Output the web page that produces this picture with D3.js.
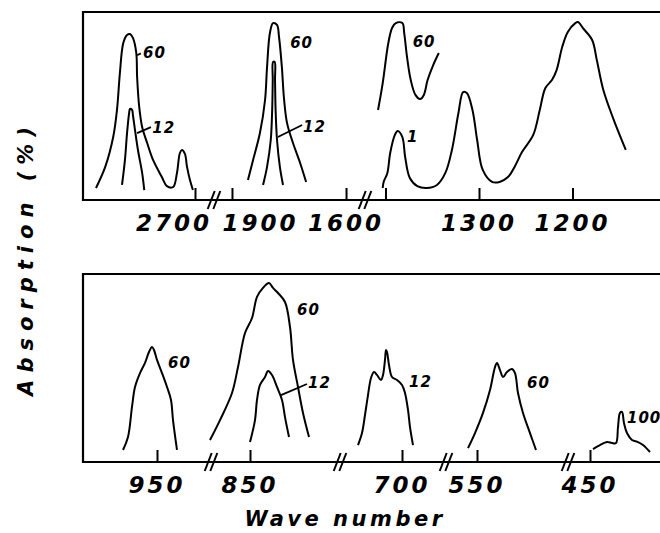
<!DOCTYPE html>
<html lang="en">
<head>
<meta charset="utf-8" />
<title>Absorption spectra</title>
<script src="https://d3js.org/d3.v7.min.js"></script>
<style>
  body { margin: 0; background: #fff; }
  text { font-family: "DejaVu Sans", sans-serif; font-style: italic; font-weight: bold; fill: #000; }
</style>
</head>
<body>
<svg id="chart" width="660" height="533" xmlns="http://www.w3.org/2000/svg"></svg>
<script>
// tick marks and tick labels (wave number)
const topTicks = [2650, 2000, 1600, 1400, 1300, 1200];
const topLabels = [2700, 1900, 1600, 1300, 1200];
const bottomTicks = [950, 850, 700, 550, 450];
const bottomLabels = [950, 850, 700, 550, 450];

// bands: [wave number, absorption %]
const band2800_60 = [[2886,6.4],[2864,17.6],[2845,33.5],[2836,47.9],[2829,67.6],[2821,83.5],[2812,87.8],[2805,88.3],[2798,86.2],[2790,78.2],[2788,65.4],[2783,49.5],[2776,38.8],[2764,30.3],[2750,21.3],[2729,12.2],[2717,7.4],[2702,6.9],[2693,14.4],[2686,25],[2681,26.6],[2674,24.5],[2669,17.6],[2662,10.6],[2655,5.3]];
const band2800_12 = [[2824,8],[2817,21.3],[2812,35.6],[2807,46.3],[2805,48.4],[2800,47.9],[2798,45.2],[2793,37.2],[2786,26.6],[2776,14.4],[2771,5.3]];
const band1850_60 = [[1944,10.6],[1926,21.3],[1902,35.6],[1884,53.2],[1877,70.7],[1867,88.8],[1856,94.1],[1842,93.1],[1835,86.7],[1825,70.7],[1818,54.8],[1807,41],[1786,30.3],[1761,19.7],[1740,9.6]];
const band1850_12 = [[1891,8],[1877,17.6],[1864,31.9],[1859,47.9],[1857,63.8],[1855.8,73.4],[1850.2,73.4],[1849,63.8],[1847,47.9],[1842,31.9],[1832,17.6],[1821,8]];
const band1380_60 = [[1408,47.9],[1403,62.2],[1397,83.5],[1393,91.5],[1389,94.1],[1382,94.1],[1380,88.8],[1377,76.1],[1373,63.8],[1368,55.9],[1363,53.7],[1359,55.9],[1355,63.8],[1349,71.8],[1343,78.2]];
const band1300_1 = [[1403,6.4],[1402,9.6],[1398,14.4],[1395,25],[1390,34.6],[1387,36.7],[1382,33.5],[1379,22.9],[1374,11.7],[1366,7.4],[1356,6.4],[1345,8],[1336,14.4],[1329,26.6],[1322,46.3],[1317,57.4],[1313,56.9],[1307,47.9],[1302,31.9],[1296,16],[1286,9.6],[1278,9.6],[1269,12.2],[1262,17.6],[1254,25.5],[1242,34.6],[1235,47.9],[1229,59.6],[1222,63.8],[1217,69.1],[1211,81.4],[1205,89.4],[1197,94.1],[1194,94.7],[1189,91.5],[1179,85.1],[1174,74.5],[1167,58.5],[1157,44.1],[1143,26.6]];

const band950_60 = [[984,6.4],[979,13.3],[975,29.3],[972,39.9],[967,47.3],[962,52.7],[958,58.5],[955,61.2],[953,59.6],[950,54.3],[945,47.3],[940,39.9],[936,33],[934,22.3],[930,6.4]];
const band830_60 = [[890,11.7],[880,22.3],[868,36.7],[862,50.5],[855,68.6],[848,76.6],[843,87.8],[837,92.6],[831,95.2],[827,92.6],[822,89.9],[815,85.1],[810,71.8],[807,54.3],[802,39.9],[797,26.1],[791,13.3]];
const band830_12 = [[850,10.6],[845,22.3],[843,33],[840,41],[835,45.2],[832,48.4],[828,46.3],[823,39.9],[818,33],[815,23.9],[811,13.3]];
const band720_12 = [[744,9],[740,15.4],[737,25],[734,35.6],[731,44.7],[728,47.9],[725,46.3],[721,43.6],[719,46.3],[717,54.3],[716,59.6],[715,58.5],[713,51.6],[710,45.2],[705,43.6],[700,41],[697,36.7],[694,27.7],[692,18.6],[689,9]];
const band530_60 = [[559,7.4],[552,15.4],[544,26.1],[537,38.3],[532,50.5],[530,52.7],[527,48.9],[524,45.2],[520,47.9],[515,49.5],[512,47.3],[509,36.7],[504,26.1],[497,15.4],[491,6.4]];
const band420_100 = [[447,6.9],[440,9],[433,10.6],[428,10.1],[424,10.1],[422,18.6],[420,26.1],[418,26.6],[416,20.7],[413,15.4],[408,11.7],[402,10.6],[397,9],[390,5.3]];

// curve notes: text, wave number, absorption
const topNotes = [["60",2774,78],["12",2752,38.3],["60",1796,83.5],["12",1751,38.8],["60",1371,84],["1",1377,33.5]];
const bottomNotes = [["60",939,52.7],["60",803,80.9],["12",792,42],["12",693,42.6],["60",500,42],["100",413,23.4]];
const topLeaders = [[[2788,77],[2779,78]],[[2788,35.6],[2755,38.8]],[[1839,33.5],[1754,39.9]]];
const bottomLeaders = [[[819,35.6],[793,41.5]]];

const panels = [
  { y0: 12, y1: 200,
    segs: [{d:[2917,2619], r:[83,208]}, {d:[2042,1551], r:[220,360]}, {d:[1416.6,1106.4], r:[370,660]}],
    ticks: topTicks, labels: topLabels,
    bands: [band2800_60, band2800_12, band1850_60, band1850_12, band1380_60, band1300_1],
    notes: topNotes, leaders: topLeaders },
  { y0: 274, y1: 462,
    segs: [{d:[1024,902], r:[83,205]}, {d:[883,765], r:[217,335]}, {d:[757,662], r:[345,440]}, {d:[575,465], r:[452,562]}, {d:[466,380], r:[574,660]}],
    ticks: bottomTicks, labels: bottomLabels,
    bands: [band950_60, band830_60, band830_12, band720_12, band530_60, band420_100],
    notes: bottomNotes, leaders: bottomLeaders }
];

const svg = d3.select("#chart");
svg.append("rect").attr("width", 660).attr("height", 533).attr("fill", "#fff");

panels.forEach(p => {
  p.segs.forEach(s => { s.scale = d3.scaleLinear().domain(s.d).range(s.r); });
  const y = d3.scaleLinear().domain([0, 100]).range([p.y1, p.y0]);

  // pick the segment holding a wave number (nearest one if in a gap)
  const segFor = w => {
    let best = p.segs[0], bd = Infinity;
    p.segs.forEach(s => {
      const hi = Math.max(...s.d), lo = Math.min(...s.d);
      const dist = w > hi ? w - hi : (w < lo ? lo - w : 0);
      if (dist < bd) { bd = dist; best = s; }
    });
    return best;
  };
  const xw = w => segFor(w).scale(w);

  const g = svg.append("g");

  // frame
  g.append("path")
    .attr("d", `M660,${p.y0} L83,${p.y0} L83,${p.y1} L660,${p.y1}`)
    .attr("fill", "none").attr("stroke", "#000").attr("stroke-width", 2.2);

  // ticks per segment
  p.segs.forEach(s => {
    const hi = Math.max(...s.d), lo = Math.min(...s.d);
    const ax = g.append("g")
      .attr("transform", `translate(0,${p.y1})`)
      .call(d3.axisTop(s.scale)
        .tickValues(p.ticks.filter(t => t <= hi && t >= lo))
        .tickSize(12).tickSizeOuter(0).tickFormat(""));
    ax.select(".domain").remove();
    ax.selectAll(".tick line").attr("stroke", "#000").attr("stroke-width", 2);
  });

  // axis breaks
  for (let i = 0; i < p.segs.length - 1; i++) {
    const c = (p.segs[i].r[1] + p.segs[i + 1].r[0]) / 2;
    [-2.8, 2.8].forEach(off => {
      g.append("line")
        .attr("x1", c + off - 3.5).attr("y1", p.y1 + 9)
        .attr("x2", c + off + 3.5).attr("y2", p.y1 - 9)
        .attr("stroke", "#000").attr("stroke-width", 2);
    });
  }

  // tick labels
  g.selectAll("text.tl")
    .data(p.labels)
    .enter().append("text")
    .attr("class", "tl")
    .attr("x", d => xw(d))
    .attr("y", p.y1 + 31)
    .attr("text-anchor", "middle")
    .style("font-size", "23px")
    .style("letter-spacing", "3px")
    .text(d => d);

  // bands
  const line = d3.line()
    .x(d => xw(d[0]))
    .y(d => y(d[1]))
    .curve(d3.curveCatmullRom.alpha(0.5));
  g.selectAll("path.band")
    .data(p.bands)
    .enter().append("path")
    .attr("class", "band")
    .attr("d", line)
    .attr("fill", "none").attr("stroke", "#000")
    .attr("stroke-width", 2).attr("stroke-linejoin", "round");

  // leaders and notes
  g.selectAll("line.ld")
    .data(p.leaders)
    .enter().append("line")
    .attr("class", "ld")
    .attr("x1", d => xw(d[0][0])).attr("y1", d => y(d[0][1]))
    .attr("x2", d => xw(d[1][0])).attr("y2", d => y(d[1][1]))
    .attr("stroke", "#000").attr("stroke-width", 1.8);

  g.selectAll("text.note")
    .data(p.notes)
    .enter().append("text")
    .attr("class", "note")
    .attr("x", d => xw(d[1]))
    .attr("y", d => y(d[2]))
    .attr("dominant-baseline", "central")
    .style("font-size", "15px")
    .style("letter-spacing", "1px")
    .text(d => d[0]);
});

// axis titles
svg.append("text")
  .attr("transform", "translate(33,258) rotate(-90)")
  .attr("text-anchor", "middle")
  .style("font-size", "21px")
  .style("letter-spacing", "7px")
  .text("Absorption (%)");

svg.append("text")
  .attr("x", 345).attr("y", 526)
  .attr("text-anchor", "middle")
  .style("font-size", "21px")
  .style("letter-spacing", "3.5px")
  .text("Wave number");
</script>
</body>
</html>
